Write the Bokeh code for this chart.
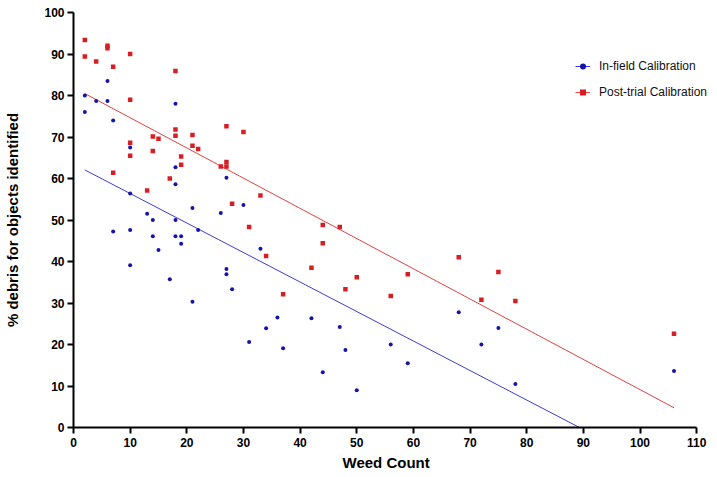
import numpy as np
from bokeh.plotting import figure
from bokeh.models import Range1d, Legend, LegendItem, FixedTicker, Title
from bokeh.embed import file_html
from bokeh.resources import INLINE

# In-field Calibration (blue)
infield_x = [2, 2, 4, 6, 6, 7, 10, 18, 18, 18, 10, 13, 14, 18, 21, 26, 27, 7, 10, 14,
             18, 19, 19, 22, 15, 10, 27, 27, 17, 21, 28, 36, 34, 31, 37, 42, 47, 48, 44, 50,
             56, 30, 33, 68, 75, 72, 59, 78, 106]
infield_y = [80.0, 76.0, 78.7, 83.5, 78.7, 74.0, 67.5, 78.0, 62.7, 58.6, 56.4, 51.5, 50.0, 50.0, 52.9, 51.7, 60.2, 47.2, 47.6, 46.1,
             46.1, 46.1, 44.3, 47.6, 42.8, 39.1, 38.2, 36.9, 35.7, 30.3, 33.3, 26.5, 23.9, 20.6, 19.1, 26.3, 24.2, 18.7, 13.3, 9.0,
             20.0, 53.6, 43.1, 27.8, 24.0, 20.0, 15.5, 10.5, 13.6]

# Post-trial Calibration (red)
posttrial_x = [2, 2, 4, 6, 6, 7, 10, 18, 10, 10, 10, 7, 13, 14, 15, 14, 18, 18, 21, 21,
               22, 19, 19, 17, 26, 27, 27, 27, 30, 33, 28, 31, 44, 47, 44, 34, 42, 50, 48, 37,
               56, 68, 75, 59, 72, 78, 106]
posttrial_y = [93.4, 89.4, 88.2, 92.0, 91.4, 86.9, 90.0, 85.9, 79.0, 68.6, 65.5, 61.4, 57.1, 70.1, 69.6, 66.6, 71.8, 70.3, 70.5, 67.9,
               67.1, 65.3, 63.3, 60.0, 62.9, 64.0, 62.9, 72.6, 71.2, 55.9, 53.9, 48.3, 48.8, 48.3, 44.4, 41.3, 38.5, 36.2, 33.3, 32.1,
               31.7, 41.0, 37.5, 36.9, 30.8, 30.5, 22.6]

x_ticks = list(range(0, 111, 10))
y_ticks = list(range(0, 101, 10))
series_labels = ["In-field Calibration", "Post-trial Calibration"]
x_title = "Weed Count"
y_title = "% debris for objects identified"

BLUE_PT = "#1414A8"
BLUE_LN = "#3C3CD8"
RED_PT = "#D81E24"
RED_LN = "#E24440"
FONT = "Liberation Sans, Arial, sans-serif"

p = figure(width=716, height=476, output_backend="svg", toolbar_location=None,
           x_range=Range1d(0, 113.5), y_range=Range1d(0, 100),
           min_border_left=73, min_border_right=0, min_border_top=12, min_border_bottom=49)
p.outline_line_color = None
p.xgrid.visible = False
p.ygrid.visible = False

def fit_line(xs, ys):
    m, b = np.polyfit(np.array(xs, float), np.array(ys, float), 1)
    xx = np.array([min(xs), max(xs)], float)
    return xx, m * xx + b

bx, by = fit_line(infield_x, infield_y)
rx, ry = fit_line(posttrial_x, posttrial_y)

bl = p.line(bx, by, line_color=BLUE_LN, line_width=1)
rl = p.line(rx, ry, line_color=RED_LN, line_width=1)
bs = p.scatter(infield_x, infield_y, marker="circle", size=4, fill_color=BLUE_PT, line_color=None)
rs = p.scatter(posttrial_x, posttrial_y, marker="square", size=4.5, fill_color=RED_PT, line_color=None)

for ax in (p.xaxis[0], p.yaxis[0]):
    ax.axis_line_width = 2
    ax.axis_line_color = "black"
    ax.major_tick_line_width = 2
    ax.major_tick_line_color = "black"
    ax.major_tick_out = 6
    ax.major_tick_in = 0
    ax.minor_tick_line_color = None
    ax.major_label_text_font = FONT
    ax.major_label_text_font_style = "bold"
    ax.major_label_text_font_size = "12px"
    ax.major_label_text_color = "black"
    ax.axis_label_text_font = FONT
    ax.axis_label_text_font_style = "bold"
    ax.axis_label_text_font_size = "15px"
    ax.axis_label_text_color = "black"

p.xaxis.ticker = FixedTicker(ticks=x_ticks)
p.yaxis.ticker = FixedTicker(ticks=y_ticks)
p.xaxis.bounds = (0, 110)
p.yaxis.bounds = (0, 100)
p.xaxis.major_label_standoff = 4
p.yaxis.major_label_standoff = 3
p.yaxis.axis_label = y_title
p.yaxis.axis_label_standoff = 20

# x title centred under the 0-110 axis
p.add_layout(Title(text=x_title, align="left", offset=269, standoff=6, vertical_align="middle",
                   text_font=FONT, text_font_style="bold", text_font_size="15px",
                   text_color="black"), "below")

legend = Legend(items=[
    LegendItem(label=series_labels[0], renderers=[bl, bs]),
    LegendItem(label=series_labels[1], renderers=[rl, rs]),
], location=(502, 325))
legend.border_line_color = None
legend.background_fill_alpha = 0
legend.padding = 0
legend.margin = 0
legend.spacing = 6
legend.glyph_width = 15
legend.glyph_height = 20
legend.label_height = 20
legend.label_standoff = 9
legend.label_text_font = FONT
legend.label_text_font_size = "12px"
legend.label_text_color = "#111111"
p.add_layout(legend)

open("out.html", "w").write(file_html(p, INLINE))
